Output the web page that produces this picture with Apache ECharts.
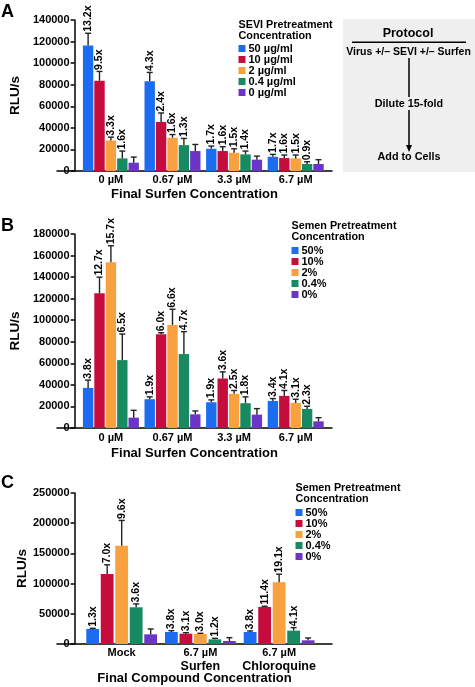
<!DOCTYPE html>
<html><head><meta charset="utf-8">
<script src="https://cdn.jsdelivr.net/npm/echarts@6/dist/echarts.min.js"></script>
<style>html,body{margin:0;padding:0;background:#fff}#c{width:475px;height:687px}</style>
</head><body><div id="c"></div>
<script>
// ---------- DATA ----------
const colors = ['#1c6cf2', '#c60c3c', '#f9a03f', '#178a62', '#6b36c8'];

// Panel A
const catsA = ['0 µM', '0.67 µM', '3.3 µM', '6.7 µM'];
const namesA = ['50 µg/ml', '10 µg/ml', '2 µg/ml', '0.4 µg/ml', '0 µg/ml'];
const meansA = [
  [116300, 83100, 20600, 13200],
  [83700, 45500, 18500, 12000],
  [28300, 30800, 16900, 11700],
  [11700, 24000, 15400, 6500],
  [7700, 18500, 10500, 6500]
];
const errTopA = [
  [127700, 91400, 23100, 15400],
  [92300, 53800, 22500, 14800],
  [31400, 33800, 20600, 14800],
  [18500, 30200, 18500, 8600],
  [12900, 24600, 13800, 10500]
];
const foldA = [
  ['13.2x', '4.3x', '1.7x', '1.7x'],
  ['9.5x', '2.4x', '1.6x', '1.6x'],
  ['3.3x', '1.6x', '1.5x', '1.5x'],
  ['1.6x', '1.3x', '1.4x', '0.9x'],
  ['', '', '', '']
];

// Panel B
const catsB = ['0 µM', '0.67 µM', '3.3 µM', '6.7 µM'];
const namesB = ['50%', '10%', '2%', '0.4%', '0%'];
const meansB = [
  [37200, 26700, 23900, 25100],
  [125000, 86900, 45900, 29800],
  [153900, 95600, 31700, 23300],
  [63000, 68600, 23000, 17700],
  [9600, 12700, 12400, 6200]
];
const errTopB = [
  [44400, 28900, 26100, 27300],
  [140000, 88400, 52100, 34800],
  [169100, 110200, 34800, 26700],
  [87200, 89400, 28900, 20200],
  [16400, 15800, 18000, 9600]
];
const foldB = [
  ['3.8x', '1.9x', '1.9x', '3.4x'],
  ['12.7x', '6.0x', '3.6x', '4.1x'],
  ['15.7x', '6.6x', '2.5x', '3.1x'],
  ['6.5x', '4.7x', '1.8x', '2.3x'],
  ['', '', '', '']
];

// Panel C
const catsC = ['Mock', '6.7 µM\n{b|Surfen}', '6.7 µM\n{b|Chloroquine}'];
const namesC = ['50%', '10%', '2%', '0.4%', '0%'];
const meansC = [
  [24900, 19900, 19900],
  [116100, 17100, 61400],
  [162600, 16600, 102300],
  [60800, 7700, 22100],
  [16000, 5000, 6100]
];
const errTopC = [
  [26000, 22100, 21600],
  [131100, 18800, 62500],
  [204600, 17700, 115600],
  [66400, 9400, 27100],
  [24900, 10500, 10000]
];
const foldC = [
  ['1.3x', '3.8x', '3.8x'],
  ['7.0x', '3.1x', '11.4x'],
  ['9.6x', '3.0x', '19.1x'],
  ['3.6x', '1.2x', '4.1x'],
  ['', '', '']
];

// ---------- BUILD ----------
const FF = '"Liberation Sans", Arial, Helvetica, sans-serif';
const grids = [], xAxes = [], yAxes = [], series = [], legends = [], titles = [];

function panel(cfg) {
  const gi = grids.length;
  grids.push({left: cfg.left, width: cfg.width, top: cfg.top, height: cfg.height});
  grids.push({left: 57, width: 275, top: cfg.top, height: cfg.height});
  xAxes.push({
    type: 'category', gridIndex: gi, data: cfg.cats,
    axisLine: {show: false}, axisTick: {show: false},
    axisLabel: {color: '#000', fontSize: 11, fontWeight: 'bold', fontFamily: FF, margin: cfg.labelMargin,
      lineHeight: 12.5, interval: 0,
      rich: {b: {fontSize: 12.5, fontWeight: 'bold', fontFamily: FF, color: '#000', lineHeight: 14}}}
  });
  xAxes.push({
    type: 'category', gridIndex: gi + 1, data: [''],
    axisLine: {show: true, lineStyle: {color: '#000', width: 1.5}},
    axisTick: {show: false}, axisLabel: {show: false},
    name: cfg.xName, nameLocation: 'middle', nameGap: cfg.xNameGap,
    nameTextStyle: {color: '#000', fontSize: 13, fontWeight: 'bold', fontFamily: FF}
  });
  yAxes.push({
    type: 'value', gridIndex: gi, min: 0, max: cfg.max, interval: cfg.interval, offset: cfg.left - 57,
    splitLine: {show: false},
    axisLine: {show: true, lineStyle: {color: '#000', width: 1.5}},
    axisTick: {show: true, length: 4, lineStyle: {color: '#000', width: 1.5}},
    axisLabel: {color: '#000', fontSize: 11, fontWeight: 'bold', fontFamily: FF, margin: 5,
      formatter: (v) => String(v)},
    name: 'RLU/s', nameLocation: 'middle', nameGap: 38,
    nameTextStyle: {color: '#000', fontSize: 13.5, fontWeight: 'bold', fontFamily: FF}
  });
  yAxes.push({type: 'value', gridIndex: gi + 1, show: false, min: 0, max: 1});
  const W = cfg.barW, G = cfg.barG;
  cfg.names.forEach((nm, i) => {
    series.push({
      type: 'bar', name: nm, xAxisIndex: gi, yAxisIndex: gi,
      data: cfg.means[i], barWidth: W, barGap: (G / W * 100) + '%',
      itemStyle: {color: colors[i]}, z: 2
    });
  });
  cfg.names.forEach((nm, i) => {
    const off = (i - 2) * (W + G);
    const labels = cfg.folds[i];
    series.push({
      type: 'custom', name: nm, xAxisIndex: gi, yAxisIndex: gi, z: 3,
      data: cfg.means[i].map((v, k) => [k, v, cfg.errs[i][k]]),
      renderItem: function (params, api) {
        const ci = api.value(0);
        const b = api.coord([ci, api.value(1)]);
        const t = api.coord([ci, api.value(2)]);
        const x = b[0] + off;
        const st = {stroke: '#222', lineWidth: 1.4};
        const ch = [
          {type: 'line', shape: {x1: x, y1: b[1], x2: x, y2: t[1]}, style: st},
          {type: 'line', shape: {x1: x - 3, y1: t[1], x2: x + 3, y2: t[1]}, style: st}
        ];
        const lbl = labels[params.dataIndex];
        if (lbl) {
          ch.push({type: 'text', x: x, y: t[1] - 1.5, rotation: Math.PI / 2,
            style: {text: lbl, fontSize: 10.5, fontWeight: 'bold', fontFamily: FF, fill: '#000',
              align: 'left', verticalAlign: 'middle'}});
        }
        return {type: 'group', children: ch};
      }
    });
  });
  legends.push({
    data: cfg.names, orient: 'vertical', left: cfg.legLeft, top: cfg.legTop,
    itemWidth: 7, itemHeight: 7, itemGap: 0, icon: 'rect', padding: 0, selectedMode: false,
    textStyle: {color: '#000', fontSize: 11, fontWeight: 'bold', fontFamily: FF, lineHeight: 10.7, padding: [0, 0, 0, -2]}
  });
  titles.push({
    text: cfg.legTitle, left: cfg.legLeft, top: cfg.legTitleTop, padding: 0,
    textStyle: {color: '#000', fontSize: 10.8, fontWeight: 'bold', fontFamily: FF, lineHeight: 11}
  });
  titles.push({
    text: cfg.letter, left: 1, top: cfg.letterTop, padding: 0,
    textStyle: {color: '#000', fontSize: 18, fontWeight: 'bold', fontFamily: FF}
  });
}

panel({cats: catsA, names: namesA, means: meansA, errs: errTopA, folds: foldA,
  left: 62.5, width: 264, top: 20, height: 151, max: 140000, interval: 20000,
  barW: 10.4, barG: 1.0, labelMargin: 3, xName: 'Final Surfen Concentration', xNameGap: 17,
  legLeft: 238.5, legTop: 43, legTitle: 'SEVI Pretreatment\nConcentration', legTitleTop: 19.5,
  letter: 'A', letterTop: 3});
panel({cats: catsB, names: namesB, means: meansB, errs: errTopB, folds: foldB,
  left: 62.5, width: 264, top: 234, height: 194, max: 180000, interval: 20000,
  barW: 10.4, barG: 1.0, labelMargin: 4, xName: 'Final Surfen Concentration', xNameGap: 19,
  legLeft: 291.5, legTop: 245, legTitle: 'Semen Pretreatment\nConcentration', legTitleTop: 221,
  letter: 'B', letterTop: 217});
panel({cats: catsC, names: namesC, means: meansC, errs: errTopC, folds: foldC,
  left: 64.7, width: 253.8, top: 493, height: 151, max: 250000, interval: 50000,
  barW: 12.8, barG: 1.7, labelMargin: 3, xName: 'Final Compound Concentration', xNameGap: 28,
  legLeft: 295.5, legTop: 507, legTitle: 'Semen Pretreatment\nConcentration', legTitleTop: 483,
  letter: 'C', letterTop: 474});

const bold = (s) => ({fontSize: s, fontWeight: 'bold', fontFamily: FF, fill: '#000', align: 'center', verticalAlign: 'middle'});
const graphic = [
  {type: 'rect', shape: {x: 343, y: 19, width: 132, height: 153}, style: {fill: '#efefef'}, z: 0},
  {type: 'text', x: 408, y: 34, style: Object.assign({text: 'Protocol'}, bold(12.5))},
  {type: 'line', shape: {x1: 352, y1: 42.3, x2: 466, y2: 42.3}, style: {stroke: '#000', lineWidth: 1.5}},
  {type: 'text', x: 408.5, y: 52.5, style: Object.assign({text: 'Virus +/– SEVI +/– Surfen'}, bold(10.5))},
  {type: 'line', shape: {x1: 409, y1: 58, x2: 409, y2: 97}, style: {stroke: '#000', lineWidth: 1.5}},
  {type: 'text', x: 409, y: 104, style: Object.assign({text: 'Dilute 15-fold'}, bold(10.8))},
  {type: 'line', shape: {x1: 409, y1: 110, x2: 409, y2: 146}, style: {stroke: '#000', lineWidth: 1.5}},
  {type: 'polygon', shape: {points: [[406, 145], [412, 145], [409, 152]]}, style: {fill: '#000'}},
  {type: 'text', x: 409, y: 157, style: Object.assign({text: 'Add to Cells'}, bold(10.8))}
];

const chart = echarts.init(document.getElementById('c'), null, {renderer: 'canvas'});
chart.setOption({
  animation: false, backgroundColor: '#fff',
  title: titles, legend: legends, grid: grids, xAxis: xAxes, yAxis: yAxes, series: series, graphic: graphic
});
</script></body></html>
